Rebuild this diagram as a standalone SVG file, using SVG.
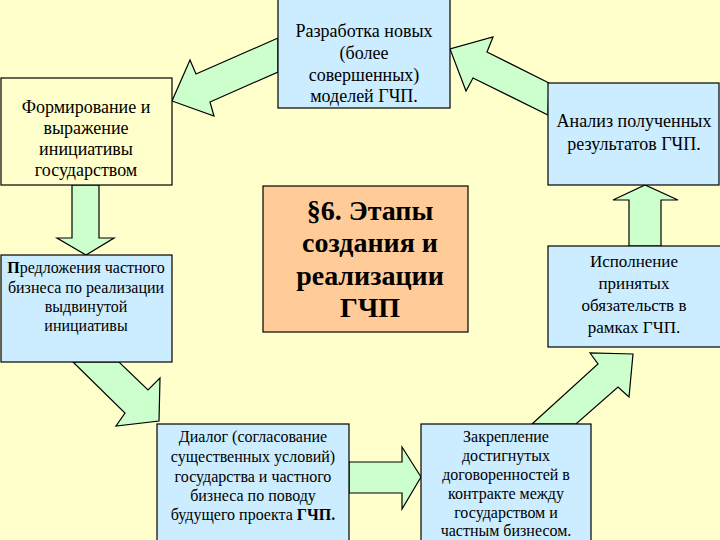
<svg xmlns="http://www.w3.org/2000/svg" width="720" height="540" viewBox="0 0 720 540">
<style>
.bg{fill:#FFFFCC}
.box{stroke:#000;stroke-width:1.2}
.blue{fill:#CCECFF}
.yel{fill:#FFFFCC}
.peach{fill:#FFCC99}
.arr{fill:#CCFFCC;stroke:#000;stroke-width:1.2;stroke-linejoin:miter}
.txt text{fill:#000;text-anchor:middle}
.t18{font-size:18px}
.t17{font-size:17px}
.t16{font-size:16px}
.title{font-size:28px;font-weight:bold}
.b{font-weight:bold}
</style>
<rect class="bg" x="0" y="0" width="720" height="540"/>
<g id="connectors">
<polygon class="arr" points="72,185 72,238 57,238 86,255 114,238 99,238 99,185"/>
<polygon class="arr" points="629,246 629,200 613,200 645,185 678,200 661,200 661,246"/>
<polygon class="arr" points="349,462 402,462 402,447 421,477 402,509 402,493 349,493"/>
<polygon class="arr" points="278,38 196,74 190,60 172,101 214,116 210,102 278,72"/>
<polygon class="arr" points="549,83 487,52 493,37 450,49 466,91 473,78 548,115"/>
<polygon class="arr" points="73,362 125,413 116,426 159,421 160,378 148,390 119,362"/>
<polygon class="arr" points="532,424 598,364 590,353 633,354 629,397 618,387 576,424"/>
</g>
<g class="txt" font-family="'Liberation Serif', 'Times New Roman', serif">
<g id="n-formirovanie">
<rect class="box yel" x="1" y="78" width="171" height="107"/>
<text class="t18" x="86" y="113">Формирование и</text>
<text class="t18" x="86" y="134">выражение</text>
<text class="t18" x="86" y="155">инициативы</text>
<text class="t18" x="86" y="176">государством</text>
</g>
<g id="n-razrabotka">
<rect class="box blue" x="278" y="-1" width="172" height="109"/>
<text class="t18" x="364" y="37">Разработка новых</text>
<text class="t18" x="364" y="59">(более</text>
<text class="t18" x="364" y="81">совершенных)</text>
<text class="t18" x="364" y="102">моделей ГЧП.</text>
</g>
<g id="n-analiz">
<rect class="box blue" x="548" y="83" width="171" height="102"/>
<text class="t18" x="634" y="127">Анализ полученных</text>
<text class="t18" x="634" y="150">результатов ГЧП.</text>
</g>
<g id="n-predlozheniya">
<rect class="box blue" x="1" y="255" width="171" height="107"/>
<text class="t16" x="86" y="273"><tspan class="b">П</tspan>редложения частного</text>
<text class="t16" x="86" y="293">бизнеса по реализации</text>
<text class="t16" x="86" y="312">выдвинутой</text>
<text class="t16" x="86" y="331">инициативы</text>
</g>
<g id="n-title">
<rect class="box peach" x="263" y="186" width="205" height="146"/>
<text class="title" x="370" y="220">§6. Этапы</text>
<text class="title" x="370" y="252">создания и</text>
<text class="title" x="370" y="285">реализации</text>
<text class="title" x="370" y="317">ГЧП</text>
</g>
<g id="n-ispolnenie">
<rect class="box blue" x="548" y="246" width="175" height="101"/>
<text class="t17" x="634" y="267">Исполнение</text>
<text class="t17" x="634" y="289">принятых</text>
<text class="t17" x="634" y="311">обязательств в</text>
<text class="t17" x="634" y="333">рамках ГЧП.</text>
</g>
<g id="n-dialog">
<rect class="box blue" x="157" y="424" width="192" height="120"/>
<text class="t16" x="253" y="442">Диалог (согласование</text>
<text class="t16" x="253" y="462">существенных условий)</text>
<text class="t16" x="253" y="482">государства и частного</text>
<text class="t16" x="253" y="501">бизнеса по поводу</text>
<text class="t16" x="253" y="520">будущего проекта <tspan class="b">ГЧП.</tspan></text>
</g>
<g id="n-zakreplenie">
<rect class="box blue" x="421" y="424" width="170" height="120"/>
<text class="t16" x="506" y="442">Закрепление</text>
<text class="t16" x="506" y="461">достигнутых</text>
<text class="t16" x="506" y="480">договоренностей в</text>
<text class="t16" x="506" y="499">контракте между</text>
<text class="t16" x="506" y="518">государством и</text>
<text class="t16" x="506" y="536">частным бизнесом.</text>
</g>
</g>
</svg>
